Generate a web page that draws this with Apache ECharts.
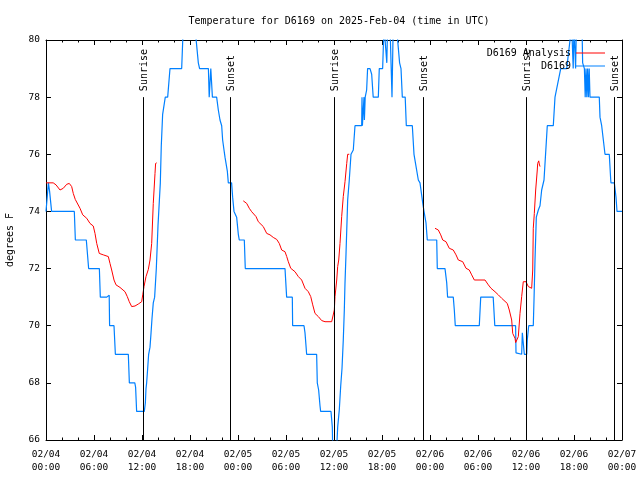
<!DOCTYPE html>
<html>
<head>
<meta charset="utf-8">
<script src="https://cdn.jsdelivr.net/npm/echarts@6/dist/echarts.min.js"></script>
<style>html,body{margin:0;padding:0;background:#fff}#c{width:640px;height:480px}</style>
</head>
<body>
<div id="c"></div>
<script>
// Hours since 2025-02-04 00:00 UTC
const xTickLabels = ['02/04\n00:00','02/04\n06:00','02/04\n12:00','02/04\n18:00','02/05\n00:00','02/05\n06:00','02/05\n12:00','02/05\n18:00','02/06\n00:00','02/06\n06:00','02/06\n12:00','02/06\n18:00','02/07\n00:00'];
const yTicks = [66, 68, 70, 72, 74, 76, 78, 80];

const eventHours = [12.15, 23.04, 36.04, 47.09, 60.04, 70.96];
const eventLabels = ['Sunrise', 'Sunset', 'Sunrise', 'Sunset', 'Sunrise', 'Sunset'];

const observed = [
[0,74],[0.25,74],[0.3,75],[0.45,74.7],[0.7,74],
[3.54,74],[3.67,73],[5.04,73],[5.33,72],[6.67,72],[6.79,71],
[7.6,71],[7.65,71.07],[7.9,71.07],[7.95,70],[8.5,70],[8.67,69],
[10.29,69],[10.42,68],[11.1,68],[11.2,67.85],[11.33,67],
[12.29,67],[12.42,67.3],[12.5,67.8],[12.58,68],[12.71,68.5],[12.83,69],[13.0,69.25],[13.13,69.75],[13.25,70.25],[13.41,70.8],[13.58,71],[13.79,72],[14.0,73.5],[14.29,75],[14.41,76.3],[14.58,77.4],[14.91,78],[15.21,78],[15.5,79],[16.96,79],[17.16,80.5],
[18.6,80.5],[19.04,79.2],[19.2,79],[20.3,79],[20.4,78],[20.55,78],[20.6,79],[20.75,79],[20.8,78],[21.33,78],[21.54,77.55],[21.75,77.2],[21.96,77],[22.08,76.5],[22.25,76.15],[22.375,75.9],[22.67,75.4],[22.79,75],[23.2,75],[23.33,74.5],[23.5,74],[23.83,73.8],[24.04,73.2],[24.16,73],
[24.79,73],[24.91,72],[29.875,72],[30.08,71],[30.79,71],[30.83,70],
[32.25,70],[32.375,69.75],[32.5,69.3],[32.58,69],[33.83,69],[33.91,68],[34.08,67.75],[34.25,67.2],[34.33,67],
[35.625,67],[35.79,66.45],[35.85,65.5],[36.3,65.5],[36.46,66.45],[36.66,67.05],[36.84,67.9],[37.0,68.5],[37.16,69.5],[37.29,70.55],[37.375,71.5],[37.5,72.5],[37.71,74.4],[37.91,75.1],[38.125,76],[38.41,76.15],[38.625,77],
[39.46,77],[39.5,78],[39.55,77],[39.7,77],[39.75,78],[39.8,77.2],[39.9,78],[40.08,78.25],[40.2,79],[40.5,79],[40.71,78.8],[40.9,78],[41.54,78],[41.66,79],[42.08,79],[42.25,80.5],[42.5,80.5],[42.6,79.2],[42.7,80.5],[43.0,80.5],[43.25,78],[43.4,80.5],[43.8,80.5],[44.2,79.2],[44.375,79],[44.54,78],[44.9,78],[45.04,77],[45.79,77],[46.0,76],[46.54,75.1],[46.75,75],[46.96,75],[47.09,74.3],[47.25,74],[47.5,73.6],[47.66,73],
[48.84,73],[48.91,72],[49.875,72],[50.09,71.5],[50.2,71],[50.91,71],[51.04,70.55],[51.16,70],
[54.16,70],[54.34,71],[55.9,71],[56.1,70],
[58.7,70],[58.75,69.05],[59.46,69],[59.54,69.75],[59.79,69],[60.09,69],[60.16,69.5],[60.34,70],[60.91,70],[61.0,70.9],[61.125,72.3],[61.29,73.8],[61.54,74.05],[61.75,74.2],[61.96,74.75],[62.25,75.1],[62.5,76.25],[62.66,77],[63.41,77],[63.625,78],[63.84,78],[64.34,79],[65.09,79],[65.71,80.5],[65.9,79],[66.0,80.5],[66.2,79],[66.3,80.5],[67.0,80.5],[67.08,79.2],[67.3,79],[67.4,78],[67.5,79],[67.6,78],[67.7,79],[67.8,78],[67.9,79],[68.0,78],[68.41,78],[69.16,78],[69.25,77.3],[69.46,77],[69.875,76],[70.41,76],[70.59,75.1],[70.625,75],[71.04,75],[71.25,74.5],[71.375,74],[72,74]
];

const analysisDay1 = [
[0,75.0],[0.9,75.0],[1.25,74.93],[1.75,74.75],[2.16,74.81],[2.59,74.95],[2.91,74.98],[3.21,74.87],[3.41,74.63],[3.66,74.42],[3.91,74.38],[4.25,74.11],[4.59,73.88],[5.09,73.76],[5.5,73.58],[5.91,73.49],[6.125,73.23],[6.34,72.88],[6.66,72.53],[7.16,72.48],[7.79,72.42],[8.0,72.18],[8.21,71.95],[8.5,71.6],[8.75,71.43],[9.25,71.34],[9.875,71.19],[10.16,71.02],[10.41,70.84],[10.71,70.67],[11.125,70.69],[11.54,70.76],[11.96,70.84],[12.09,71.08],[12.25,71.37],[12.5,71.72],[12.79,71.97],[13.0,72.3],[13.21,72.88],[13.41,74.28],[13.625,75.33],[13.7,75.68],[13.84,75.7]
];
const analysisDay2 = [
[24.66,74.37],[25.09,74.28],[25.41,74.11],[25.71,73.99],[26.25,73.82],[26.54,73.64],[26.75,73.58],[27.16,73.47],[27.59,73.23],[28.0,73.18],[28.41,73.09],[28.84,73.02],[29.16,72.88],[29.46,72.65],[29.875,72.59],[30.09,72.42],[30.29,72.24],[30.59,72.01],[31.125,71.89],[31.54,71.72],[31.96,71.6],[32.375,71.31],[32.79,71.19],[33.09,71.02],[33.34,70.73],[33.625,70.43],[34.04,70.32],[34.46,70.18],[34.875,70.14],[35.71,70.14],[35.91,70.2],[36.04,70.55],[36.125,71.02],[36.34,71.6],[36.46,72.07],[36.59,72.3],[36.75,72.88],[36.96,73.82],[37.16,74.52],[37.375,75.04],[37.59,75.68],[37.71,76.0],[37.91,76.0]
];
const analysisDay3 = [
[48.625,73.41],[49.04,73.35],[49.34,73.18],[49.59,73.0],[50.0,72.94],[50.41,72.71],[50.91,72.65],[51.25,72.48],[51.54,72.3],[52.09,72.24],[52.5,72.01],[52.91,71.95],[53.21,71.78],[53.54,71.6],[54.875,71.6],[55.29,71.43],[55.625,71.31],[56.125,71.19],[56.54,71.08],[56.96,70.96],[57.66,70.78],[57.91,70.55],[58.21,70.2],[58.34,69.73],[58.625,69.56],[58.71,69.41],[58.91,69.41],[59.04,69.62],[59.25,70.43],[59.46,71.02],[59.66,71.54],[60.0,71.54],[60.29,71.37],[60.71,71.31],[60.84,71.95],[60.91,73.41],[61.04,73.93],[61.21,74.75],[61.41,75.45],[61.46,75.68],[61.59,75.77],[61.66,75.66],[61.75,75.57]
];

const FONT = 'DejaVu Sans Mono';
const RED = '#ff0000';
const BLUE = '#0080ff';

const chart = echarts.init(document.getElementById('c'), null, {renderer: 'canvas'});

function analysisSeries(data) {
  return {
    name: 'D6169 Analysis', type: 'line', data: data, symbol: 'none',
    lineStyle: {color: RED, width: 1}, itemStyle: {color: RED},
    clip: true, animation: false, z: 3
  };
}

const tickCommon = {inside: true, length: 5, lineStyle: {color: '#000'}};
const minorCommon = {show: true, splitNumber: 3, length: 2.5, lineStyle: {color: '#000'}};
const lineCommon = {show: true, onZero: false, lineStyle: {color: '#000', width: 1}};

chart.setOption({
  animation: false,
  backgroundColor: '#fff',
  title: {
    text: 'Temperature for D6169 on 2025-Feb-04 (time in UTC)',
    left: 334, top: 11, textAlign: 'center',
    textStyle: {fontFamily: FONT, fontSize: 10, fontWeight: 'normal', color: '#000'}
  },
  legend: [
    {data: ['D6169 Analysis'], right: 30, top: 43, align: 'right', icon: 'rect', itemWidth: 29, itemHeight: 1,
     textStyle: {fontFamily: FONT, fontSize: 10, color: '#000'}, selectedMode: false},
    {data: ['D6169'], right: 30, top: 56, align: 'right', icon: 'rect', itemWidth: 29, itemHeight: 1,
     textStyle: {fontFamily: FONT, fontSize: 10, color: '#000'}, selectedMode: false}
  ],
  grid: {left: 46, right: 18, top: 40, bottom: 40, containLabel: false, outerBoundsMode: 'none'},
  xAxis: [
    {type: 'value', min: 0, max: 72, interval: 6, position: 'bottom',
     axisLine: lineCommon, axisTick: tickCommon, minorTick: minorCommon, splitLine: {show: false},
     axisLabel: {margin: 8, fontFamily: FONT, fontSize: 9.5, color: '#000', lineHeight: 13,
       showMinLabel: true, showMaxLabel: true,
       formatter: v => xTickLabels[Math.round(v / 6)]}},
    {type: 'value', min: 0, max: 72, interval: 6, position: 'top',
     axisLine: lineCommon, axisTick: tickCommon, minorTick: minorCommon, splitLine: {show: false},
     axisLabel: {show: false}}
  ],
  yAxis: [
    {type: 'value', min: 66, max: 80, interval: 2, position: 'left',
     name: 'degrees F', nameLocation: 'middle', nameRotate: 90, nameGap: 31,
     nameTextStyle: {fontFamily: FONT, fontSize: 10, color: '#000'},
     axisLine: lineCommon, axisTick: tickCommon, splitLine: {show: false},
     axisLabel: {margin: 6, fontFamily: FONT, fontSize: 9.5, color: '#000',
       formatter: v => yTicks.includes(v) ? String(v) : ''}},
    {type: 'value', min: 66, max: 80, interval: 2, position: 'right',
     axisLine: lineCommon, axisTick: tickCommon, splitLine: {show: false},
     axisLabel: {show: false}}
  ],
  series: [
    analysisSeries(analysisDay1),
    analysisSeries(analysisDay2),
    analysisSeries(analysisDay3),
    {name: 'D6169', type: 'line', data: observed, symbol: 'none',
     lineStyle: {color: BLUE, width: 1.2}, itemStyle: {color: BLUE}, clip: true, z: 2},
    {name: 'sun', type: 'custom', data: eventHours.map(h => [h, 66]), z: 4, silent: true,
     renderItem: function (params, api) {
       const h = api.value(0);
       const p0 = api.coord([h, 66]);
       const p1 = api.coord([h, 78]);
       const x = Math.round(p0[0]) + 0.5;
       return {type: 'group', children: [
         {type: 'line', shape: {x1: x, y1: p0[1], x2: x, y2: p1[1]}, style: {stroke: '#000', lineWidth: 1}},
         {type: 'text', x: x + 1, y: p1[1] - 6, rotation: Math.PI / 2,
          style: {text: eventLabels[params.dataIndex], fill: '#000', font: '10px ' + FONT, align: 'left', verticalAlign: 'middle'}}
       ]};
     }}
  ]
});
</script>
</body>
</html>
